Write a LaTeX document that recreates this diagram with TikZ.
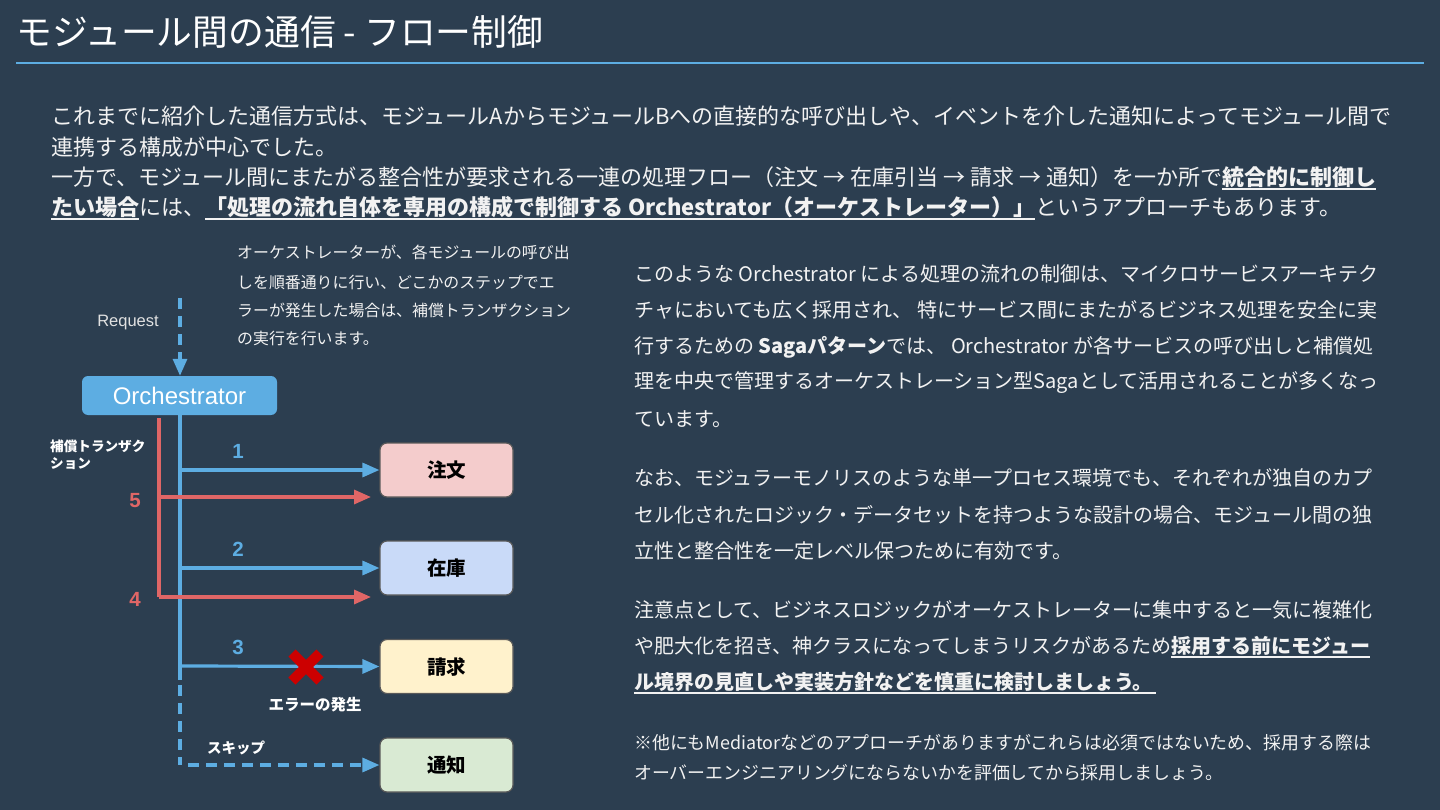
\documentclass[tikz,border=0pt]{standalone}
\usepackage{fontspec}
\setmainfont{Noto Sans CJK JP}
\newfontfamily\diafont{Liberation Sans}
\usetikzlibrary{arrows.meta,calc}
\definecolor{bg}{HTML}{2C3E50}
\definecolor{bl}{HTML}{5DADE2}
\definecolor{rd}{HTML}{E06666}
\definecolor{txt}{HTML}{F2F2F2}
\definecolor{c1}{HTML}{F4CCCC}
\definecolor{c2}{HTML}{C9DAF8}
\definecolor{c3}{HTML}{FFF2CC}
\definecolor{c4}{HTML}{D9EAD3}
\newcommand\myul[1]{\setbox0\hbox{#1}\rlap{\rule[-4.5pt]{\wd0}{1.8pt}}\box0}
\newcommand\fs[1]{\fontsize{#1}{#1}\selectfont}
\tikzset{
  line/.style={anchor=west,inner sep=0,text=txt},
  topline/.style={line,font=\fs{22}},
  rline/.style={line,font=\fs{20}},
  nline/.style={line,font=\fs{17.9}},
  aline/.style={line,font=\fs{15.9}},
  modbox/.style={draw=gray!70!black,line width=1.2pt,rounded corners=7pt,minimum width=133pt,minimum height=54pt,font=\bfseries\fs{19.5},text=black},
  bar/.style={line width=3.2pt},
  tip/.style={-{Triangle[length=17pt,width=14pt]}},
  dsh/.style={dash pattern=on 11pt off 7pt},
  num/.style={font=\diafont\bfseries\fs{20.5},inner sep=0},
  lab/.style={font=\bfseries\fs{13.6},text=white,inner sep=0},
}
\begin{document}
\begin{tikzpicture}[x=1pt,y=-1pt]
\fill[bg] (0,0) rectangle (1440,810);
\useasboundingbox (0,0) rectangle (1440,810);
% title
\node[line,font=\fs{35.8},text=white] (title) at (16,32) {モジュール間の通信 - フロー制御};
\coordinate (tl) at (16,63); \coordinate (tr) at (1424,63);
\draw[bl,line width=1.4pt] (tl) -- (tr);
% top paragraph
\node[topline] (p1) at (51,116) {これまでに紹介した通信方式は、モジュールAからモジュールBへの直接的な呼び出しや、イベントを介した通知によってモジュール間で};
\node[topline] (p2) at (51,147) {連携する構成が中心でした。};
\node[topline] (p3) at (51,178) {一方で、モジュール間にまたがる整合性が要求される一連の処理フロー（注文 → 在庫引当 → 請求 → 通知）を一か所で\myul{\bfseries 統合的に制御し}};
\node[topline] (p4) at (51,208) {\myul{\bfseries たい場合}には、\myul{\bfseries 「処理の流れ自体を専用の構成で制御する Orchestrator（オーケストレーター）」}というアプローチもあります。};
% right paragraphs
\node[rline] (r1) at (634,274) {このような Orchestrator による処理の流れの制御は、マイクロサービスアーキテク};
\node[rline] (r2) at (634,310) {チャにおいても広く採用され、 特にサービス間にまたがるビジネス処理を安全に実};
\node[rline] (r3) at (634,347) {行するための \textbf{Sagaパターン}では、 Orchestrator が各サービスの呼び出しと補償処};
\node[rline] (r4) at (634,383) {理を中央で管理するオーケストレーション型Sagaとして活用されることが多くなっ};
\node[rline] (r5) at (634,419) {ています。};
\node[rline] (s1) at (634,478) {なお、モジュラーモノリスのような単一プロセス環境でも、それぞれが独自のカプ};
\node[rline] (s2) at (634,515) {セル化されたロジック・データセットを持つような設計の場合、モジュール間の独};
\node[rline] (s3) at (634,551) {立性と整合性を一定レベル保つために有効です。};
\node[rline] (u1) at (634,610) {注意点として、ビジネスロジックがオーケストレーターに集中すると一気に複雑化};
\node[rline] (u2) at (634,647) {や肥大化を招き、神クラスになってしまうリスクがあるため\myul{\bfseries 採用する前にモジュー}};
\node[rline] (u3) at (634,683) {\myul{\bfseries ル境界の見直しや実装方針などを慎重に検討しましょう。\,}};
\node[nline] (n1) at (634,743) {※他にもMediatorなどのアプローチがありますがこれらは必須ではないため、採用する際は};
\node[nline] (n2) at (634,773) {オーバーエンジニアリングにならないかを評価してから採用しましょう。};
% annotation
\node[aline] (a1) at (237,252) {オーケストレーターが、各モジュールの呼び出};
\node[aline] (a2) at (237,282) {しを順番通りに行い、どこかのステップでエ};
\node[aline] (a3) at (237,310) {ラーが発生した場合は、補償トランザクション};
\node[aline] (a4) at (237,338) {の実行を行います。};
% diagram
\node[font=\diafont\fs{16.5},text=txt!85!gray,inner sep=0] (req) at (128,323) {Request};
\node[fill=bl,rounded corners=6pt,minimum width=195pt,minimum height=39pt,inner sep=0,font=\diafont\fs{24},text=white] (orch) at (179.5,395.5) {Orchestrator};
\coordinate (rqs) at (180,298);
\draw[bl,bar,dsh,tip] (rqs) -- (orch.north -| rqs);
\node[modbox,fill=c1] (m1) at (446.5,470) {注文};
\node[modbox,fill=c2] (m2) at (446.5,568) {在庫};
\node[modbox,fill=c3] (m3) at (446.5,666.5) {請求};
\node[modbox,fill=c4] (m4) at (446.5,765) {通知};
% blue spine
\coordinate (b0) at (180,415);
\coordinate (b1) at (180,470);
\coordinate (b2) at (180,568);
\coordinate (b3) at (180,666);
\coordinate (b4) at (180,765);
\coordinate (b4s) at (188,765);
\draw[bl,bar] (b0) -- (b3) -- (180,680);
\draw[bl,bar,dsh] (180,685) -- (b4);
\draw[bl,bar,tip] (b1) -- (m1.west);
\draw[bl,bar,tip] (b2) -- (m2.west);
\draw[bl,bar,tip] (b3) -- (m3.west);
\draw[bl,bar,dsh,tip] (b4s) -- (m4.west);
% red compensation
\coordinate (r0) at (159,418);
\coordinate (r5s) at (159,497);
\coordinate (r5e) at (371,497);
\coordinate (r4s) at (159,597);
\coordinate (r4e) at (371,597);
\draw[rd,bar] (r0) -- (r4s);
\draw[rd,bar,tip] (r5s) -- (r5e);
\draw[rd,bar,tip] (r4s) -- (r4e);
% numbers
\node[num,text=bl] (n1l) at (238,451) {1};
\node[num,text=bl] (n2l) at (238,549) {2};
\node[num,text=bl] (n3l) at (238,647) {3};
\node[num,text=rd] (n5l) at (135,501) {5};
\node[num,text=rd] (n4l) at (135,599) {4};
\node[lab,anchor=west] (comp1) at (50,446) {補償トランザク};
\node[lab,anchor=west] (comp2) at (50,464) {ション};
% error cross
\coordinate (x) at (306,667);
\draw[red!80!black,line width=10pt] ($(x)+(-14,-14)$) -- ($(x)+(14,14)$) ($(x)+(14,-14)$) -- ($(x)+(-14,14)$);
\node[lab,font=\bfseries\fs{15.5}] (err) at (315,705) {エラーの発生};
\node[lab,font=\bfseries\fs{14.5}] (skip) at (236,748) {スキップ};
\end{tikzpicture}
\end{document}
